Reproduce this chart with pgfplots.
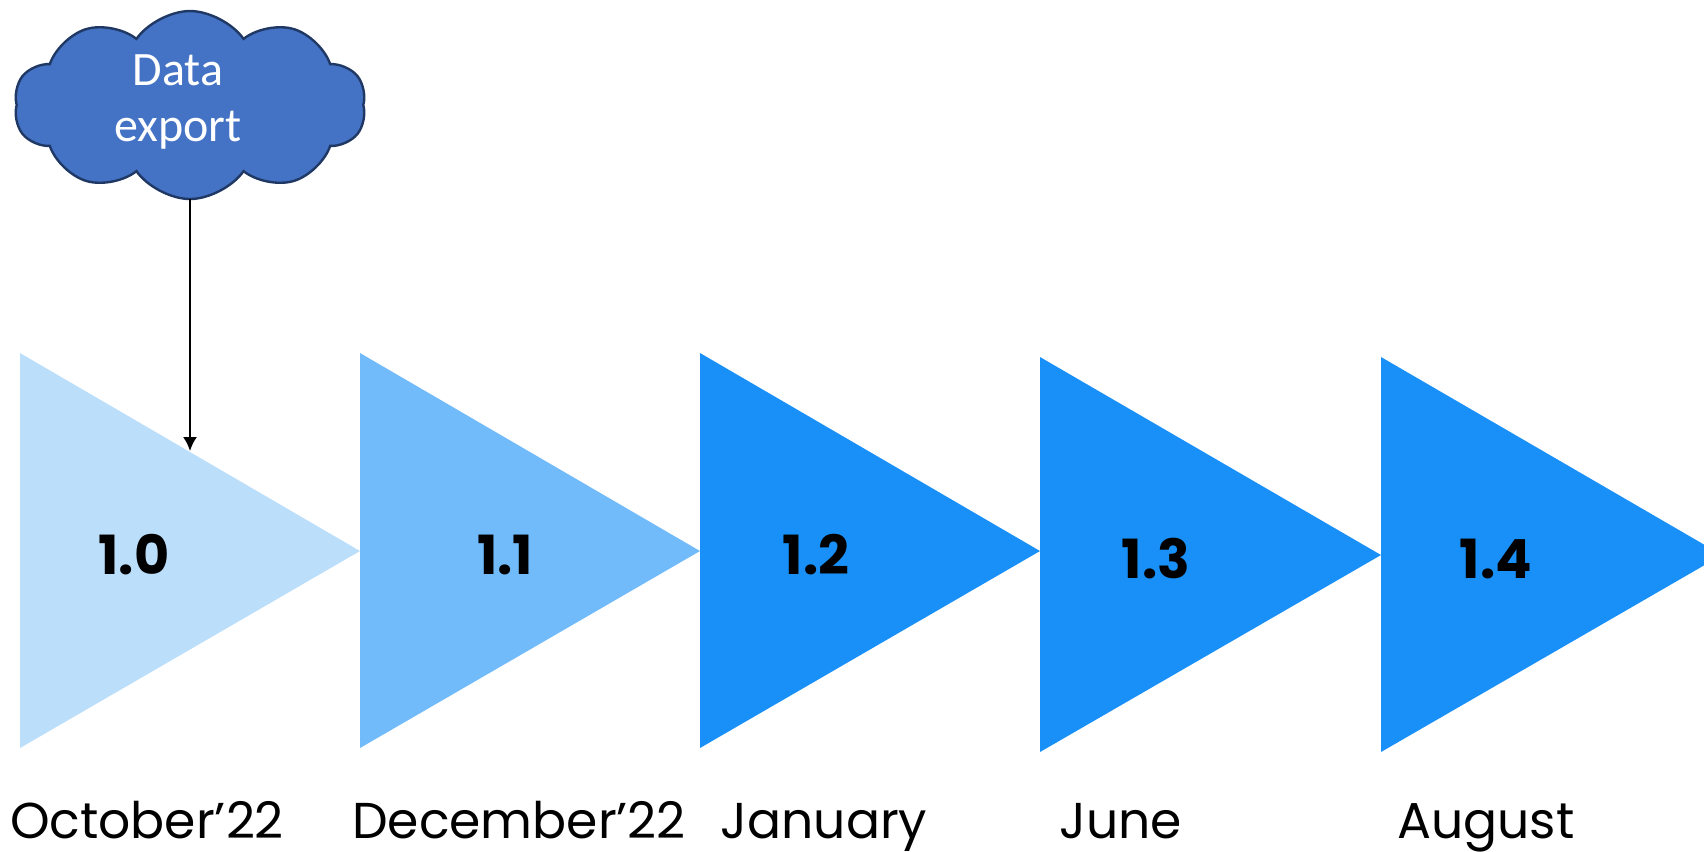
\documentclass[border=0pt]{standalone}
\usepackage{pgfplots}
\pgfplotsset{compat=1.18}
\usepackage{fontspec}
\setmainfont{Poppins}
\newfontfamily\calib{Carlito}
\usetikzlibrary{shapes.symbols,arrows.meta}

\definecolor{triLight}{RGB}{187,222,251}
\definecolor{triMid}{RGB}{114,187,251}
\definecolor{triDark}{RGB}{24,144,248}
\definecolor{cloudFill}{RGB}{68,114,196}
\definecolor{cloudEdge}{RGB}{31,56,100}

\begin{document}
\begin{tikzpicture}
\begin{axis}[
  width=426pt, height=212.75pt,
  scale only axis,
  xmin=0, xmax=1704,
  ymin=0, ymax=851,
  y dir=reverse,
  hide axis,
  clip=false,
]

% === Release triangles (pixel coords, y downwards) ===
\addplot[fill=triLight, draw=none] coordinates {(20,353) (360,551) (20,748)} --cycle;
\addplot[fill=triMid,   draw=none] coordinates {(360,353) (700,551) (360,748)} --cycle;
\addplot[fill=triDark,  draw=none] coordinates {(700,353) (1040,551) (700,748)} --cycle;
\addplot[fill=triDark,  draw=none] coordinates {(1040,357) (1381,555) (1040,752)} --cycle;
\addplot[fill=triDark,  draw=none] coordinates {(1381,357) (1722,555) (1381,752)} --cycle;

% === Cloud + arrow ===
\node[cloud, cloud puffs=10, cloud puff arc=110, aspect=1.9, fill=cloudFill, draw=cloudEdge,
      line width=0.6pt, minimum width=88pt, minimum height=47pt, inner sep=0pt]
  at (axis cs:190,105) {};
\node[font=\calib\fontsize{12}{14}\selectfont, text=white, align=center]
  at (axis cs:178,102) {Data\\export};
\addplot[black, line width=0.5pt, -{Latex[length=3.5pt,width=3.5pt]}]
  coordinates {(190,199) (190,451)};

% === Version numbers ===
\node[anchor=base, font=\fontsize{13.5}{16}\selectfont\bfseries] at (axis cs:134,574) {1.0};
\node[anchor=base, font=\fontsize{13.5}{16}\selectfont\bfseries] at (axis cs:505,574) {1.1};
\node[anchor=base, font=\fontsize{13.5}{16}\selectfont\bfseries] at (axis cs:816,574) {1.2};
\node[anchor=base, font=\fontsize{13.5}{16}\selectfont\bfseries] at (axis cs:1156,578) {1.3};
\node[anchor=base, font=\fontsize{13.5}{16}\selectfont\bfseries] at (axis cs:1496,578) {1.4};

% === Month labels ===
\node[anchor=base, font=\fontsize{12.6}{15}\selectfont] at (axis cs:147,838) {October’22};
\node[anchor=base, font=\fontsize{12.6}{15}\selectfont] at (axis cs:519,838) {December’22};
\node[anchor=base, font=\fontsize{12.6}{15}\selectfont] at (axis cs:824,838) {January};
\node[anchor=base, font=\fontsize{12.6}{15}\selectfont] at (axis cs:1121,838) {June};
\node[anchor=base, font=\fontsize{12.6}{15}\selectfont] at (axis cs:1486,838) {August};

\end{axis}
\pgfresetboundingbox
\path (current axis.south west) rectangle (current axis.north east);
\end{tikzpicture}
\end{document}
